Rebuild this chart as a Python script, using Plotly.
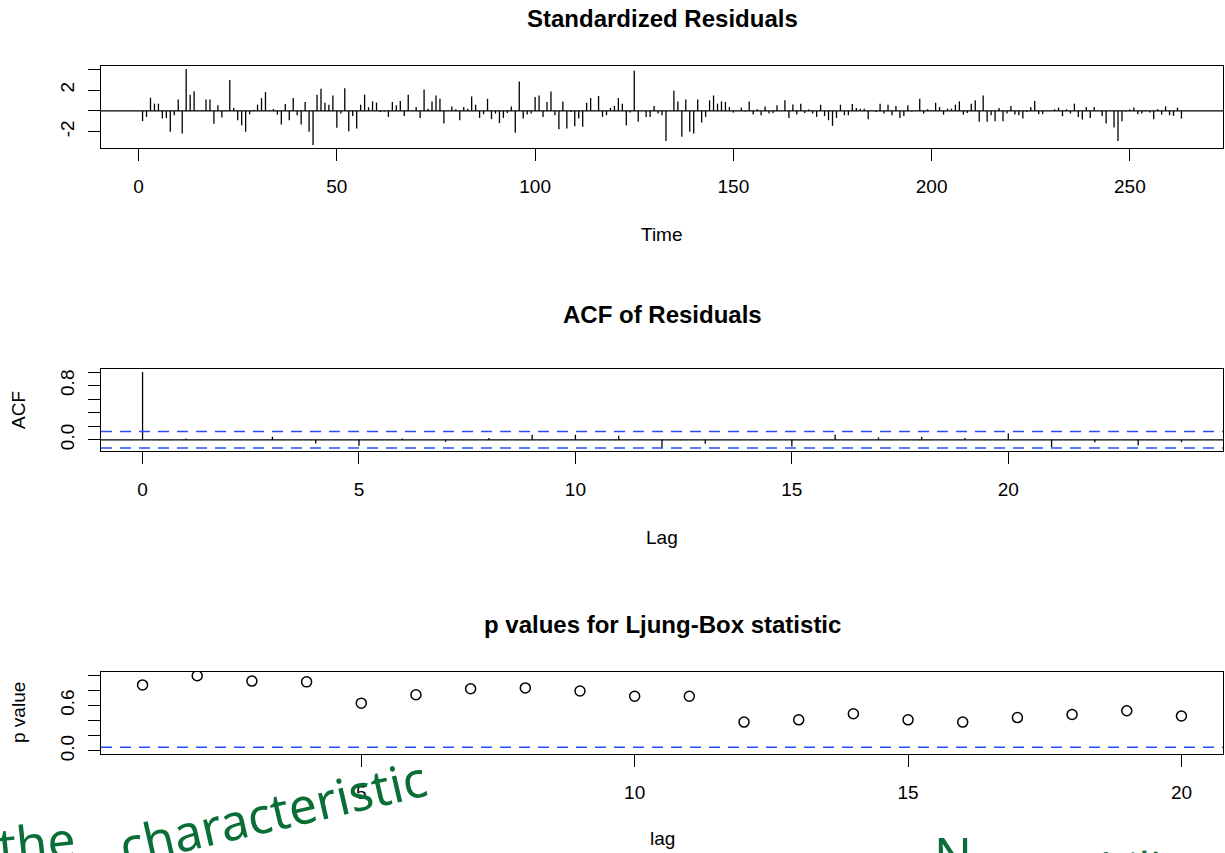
import math
import plotly.graph_objects as go

# ---------------- data ----------------
n_obs = 263
time_idx = list(range(1, n_obs + 1))
std_resid = [
    -0.98, -0.57, 1.27, 0.70, 0.70, -0.73, -0.67, -2.00, -0.41, 1.11,
    -2.16, 4.03, 1.56, 1.90, 0.05, 0.05, 1.11, 1.11, -1.24, 0.54,
    -0.63, 0.05, 2.98, 0.29, -0.89, -1.37, -2.00, -0.32, 0.10, 0.60,
    1.24, 1.81, 0.05, 0.19, -0.35, -1.30, 0.67, -0.89, 1.24, -0.41,
    -1.30, 0.86, -2.00, -3.27, 1.56, 2.13, 0.79, 0.60, 1.49, -1.62,
    -0.25, 2.19, -1.94, -0.48, -1.68, 0.60, 1.56, 0.35, 0.92, 0.80,
    -0.10, -0.05, -0.57, 0.86, 0.54, 0.95, -0.48, 1.56, 0.02, 0.38,
    -0.67, 2.06, 0.22, 0.92, 1.49, 1.17, -1.20, 0.02, 0.44, 0.16,
    -0.89, 0.38, 0.22, 1.40, 0.60, -0.67, -0.32, 1.17, -0.79, -0.25,
    -1.17, -0.67, -0.19, 0.44, -2.10, 2.83, -0.73, -0.35, -0.25, 1.33,
    1.49, -0.57, 0.86, 1.87, -0.41, -1.75, 0.92, -1.68, -0.10, -1.46,
    -0.73, -1.52, 0.79, 1.24, 0.02, 1.43, -0.57, -0.41, 0.29, 0.48,
    1.24, 0.70, -1.37, -0.16, 3.87, -1.05, 0.02, -0.57, -0.57, 0.48,
    -0.25, -0.41, -2.89, 0.02, 1.94, 0.92, -2.48, 1.11, -2.00, -2.16,
    1.11, -1.11, -0.57, 1.02, 1.49, 0.70, 0.92, 0.86, 0.38, -0.16,
    0.02, 0.32, -0.05, 0.92, -0.35, 0.16, -0.41, 0.44, -0.25, -0.19,
    0.54, 0.02, 1.02, -0.67, 0.63, -0.35, 0.70, -0.19, 0.13, -0.25,
    -0.57, 0.60, -0.48, -0.89, -1.43, -0.67, 0.60, -0.41, -0.41, 0.67,
    0.29, 0.22, 0.22, -0.79, 0.05, -0.10, 0.70, -0.25, 0.60, -0.41,
    0.48, -0.67, -0.48, 0.54, -0.05, 0.05, 1.17, -0.25, 0.16, 0.05,
    0.79, 0.38, -0.35, 0.22, 0.22, 0.60, 0.92, -0.35, -0.19, 0.70,
    1.02, -1.05, 1.49, -1.05, -0.41, -0.98, 0.29, -0.98, -0.25, 0.48,
    -0.35, -0.41, -0.73, -0.10, 0.38, 0.95, -0.32, -0.32, 0.02, 0.02,
    0.16, 0.32, -0.51, 0.16, -0.25, 0.70, -0.57, -0.83, 0.38, -0.67,
    0.38, 0.02, -0.48, -1.20, 0.02, -1.59, -2.89, -0.98, -0.05, 0.13,
    0.32, -0.32, -0.25, 0.05, -0.16, -0.79, 0.16, -0.35, 0.44, -0.41,
    -0.48, 0.32, -0.73,
]
acf_lags = list(range(0, 25))
acf_vals = [1.0, 0.02, 0.005, 0.045, -0.055, -0.09, 0.02, -0.03, 0.025, 0.075,
            0.075, 0.06, -0.12, -0.06, 0.0, -0.10, 0.075, 0.035, 0.045, 0.025,
            0.094, -0.11, -0.035, -0.08, -0.035]
lb_lags = list(range(1, 21))
lb_pvals = [0.87, 0.99, 0.92, 0.91, 0.63, 0.74, 0.82, 0.83, 0.79, 0.72,
            0.72, 0.38, 0.41, 0.49, 0.41, 0.38, 0.44, 0.48, 0.53, 0.46]

resid_xticks = [0, 50, 100, 150, 200, 250]
resid_yticks = [-2, 0, 2, 4]
resid_ytext = ["-2", "", "2", ""]
acf_xticks = [0, 5, 10, 15, 20]
acf_yticks = [0.0, 0.2, 0.4, 0.6, 0.8, 1.0]
acf_ytext = ["0.0", "", "", "", "0.8", ""]
lb_xticks = [5, 10, 15, 20]
lb_yticks = [0.0, 0.2, 0.4, 0.6, 0.8, 1.0]
lb_ytext = ["0.0", "", "", "0.6", "", ""]

clim = 1.96 / math.sqrt(n_obs)
pval_ref = 0.05

# ---------------- helpers ----------------
W, H = 1225, 853
ML, MR = 101, 2
PW = W - ML - MR
FONT = "Liberation Sans, Arial, Helvetica, sans-serif"
INK = "#0a6e36"


def ext(lo, hi, f=0.04):
    d = (hi - lo) * f
    return [lo - d, hi + d]


def py(pix):
    return 1 - pix / H


def px(pix):
    return (pix - ML) / PW


def spikes(xv, yv):
    xs, ys = [], []
    for a, b in zip(xv, yv):
        xs += [a, a, None]
        ys += [0, b, None]
    return xs, ys


fig = go.Figure()

rx, ry = spikes(time_idx, std_resid)
fig.add_trace(go.Scatter(x=rx, y=ry, mode="lines", xaxis="x", yaxis="y",
                         line=dict(color="black", width=1.3), hoverinfo="skip"))
ax_, ay_ = spikes(acf_lags, acf_vals)
fig.add_trace(go.Scatter(x=ax_, y=ay_, mode="lines", xaxis="x2", yaxis="y2",
                         line=dict(color="black", width=1.3), hoverinfo="skip"))
fig.add_trace(go.Scatter(x=lb_lags, y=lb_pvals, mode="markers", xaxis="x3", yaxis="y3",
                         marker=dict(symbol="circle-open", size=10, color="black",
                                     line=dict(width=1.5, color="black"))))

shapes = [
    dict(type="line", xref="x domain", x0=0, x1=1, yref="y", y0=0, y1=0,
         line=dict(color="black", width=1.3)),
    dict(type="line", xref="x2 domain", x0=0, x1=1, yref="y2", y0=0, y1=0,
         line=dict(color="black", width=1.3)),
    dict(type="line", xref="x2 domain", x0=0, x1=1, yref="y2", y0=clim, y1=clim,
         line=dict(color="#2a4cff", width=1.5, dash="11px,8px")),
    dict(type="line", xref="x2 domain", x0=0, x1=1, yref="y2", y0=-clim, y1=-clim,
         line=dict(color="#2a4cff", width=1.5, dash="11px,8px")),
    dict(type="line", xref="x3 domain", x0=0, x1=1, yref="y3", y0=pval_ref, y1=pval_ref,
         line=dict(color="#2a4cff", width=1.5, dash="11px,8px")),
]

# panel boxes in pixels (top, bottom)
boxes = [(66, 148), (369, 451), (672, 754)]

common_x = dict(showline=True, mirror=True, linecolor="black", linewidth=1,
                ticks="outside", ticklen=12, tickwidth=1, tickcolor="black",
                showgrid=False, zeroline=False, tickfont=dict(size=19, color="black"),
                ticklabelstandoff=9, automargin=False)
common_y = dict(showline=True, mirror=True, linecolor="black", linewidth=1,
                ticks="outside", ticklen=12, tickwidth=1, tickcolor="black",
                showgrid=False, zeroline=False, tickfont=dict(size=19, color="black"),
                tickangle=-90, ticklabelstandoff=6, automargin=False)

r_lo, r_hi = min(std_resid), max(std_resid)
a_lo, a_hi = min(min(acf_vals), -clim), max(max(acf_vals), clim)

fig.update_layout(
    width=W, height=H,
    margin=dict(l=ML, r=MR, t=0, b=0, autoexpand=False),
    paper_bgcolor="white", plot_bgcolor="white",
    showlegend=False,
    font=dict(family=FONT, color="black"),
    shapes=shapes,
    xaxis=dict(domain=[0, 1], anchor="y", range=ext(time_idx[0], time_idx[-1]),
               tickvals=resid_xticks, **common_x),
    yaxis=dict(domain=[py(boxes[0][1]), py(boxes[0][0])], anchor="x",
               range=ext(r_lo, r_hi), tickvals=resid_yticks, ticktext=resid_ytext, **common_y),
    xaxis2=dict(domain=[0, 1], anchor="y2", range=ext(acf_lags[0], acf_lags[-1]),
                tickvals=acf_xticks, **common_x),
    yaxis2=dict(domain=[py(boxes[1][1]), py(boxes[1][0])], anchor="x2",
                range=ext(a_lo, a_hi), tickvals=acf_yticks, ticktext=acf_ytext, **common_y),
    xaxis3=dict(domain=[0, 1], anchor="y3", range=ext(lb_lags[0], lb_lags[-1]),
                tickvals=lb_xticks, **common_x),
    yaxis3=dict(domain=[py(boxes[2][1]), py(boxes[2][0])], anchor="x3",
                range=ext(0, 1), tickvals=lb_yticks, ticktext=lb_ytext, **common_y),
)

ann = []
titles = [("Standardized Residuals", 18), ("ACF of Residuals", 315),
          ("p values for Ljung-Box statistic", 624)]
for txt, yy in titles:
    ann.append(dict(text="<b>%s</b>" % txt, x=px(662), y=py(yy), xref="paper", yref="paper",
                    xanchor="center", yanchor="middle", showarrow=False,
                    font=dict(size=24, family=FONT, color="black")))
for txt, yy in [("Time", 234), ("Lag", 537), ("lag", 838)]:
    ann.append(dict(text=txt, x=px(662), y=py(yy), xref="paper", yref="paper",
                    xanchor="center", yanchor="middle", showarrow=False,
                    font=dict(size=19, family=FONT, color="black")))
for txt, yy in [("ACF", 410), ("p value", 713)]:
    ann.append(dict(text=txt, x=px(18), y=py(yy), xref="paper", yref="paper",
                    xanchor="center", yanchor="middle", showarrow=False, textangle=-90,
                    font=dict(size=19, family=FONT, color="black")))

# handwritten green notes (partly cut off at bottom of the screenshot)
hand = [("the", 36, 842, 50, -6), ("characteristic", 272, 812, 50, -13),
        ("it", 772, 869, 44, 0), ("is", 866, 869, 44, 0),
        ("N", 953, 854, 50, 0), ("stability", 1120, 868, 44, -2)]
for txt, xx, yy, sz, ang in hand:
    ann.append(dict(text=txt, x=px(xx), y=py(yy), xref="paper", yref="paper",
                    xanchor="center", yanchor="middle", showarrow=False, textangle=ang,
                    font=dict(size=sz, family="Noto Sans, DejaVu Sans", color=INK)))

fig.update_layout(annotations=ann)
fig.write_html("out.html", config={"displayModeBar": False},
               post_script="document.body.style.margin='0px';document.body.style.overflow='hidden';")
